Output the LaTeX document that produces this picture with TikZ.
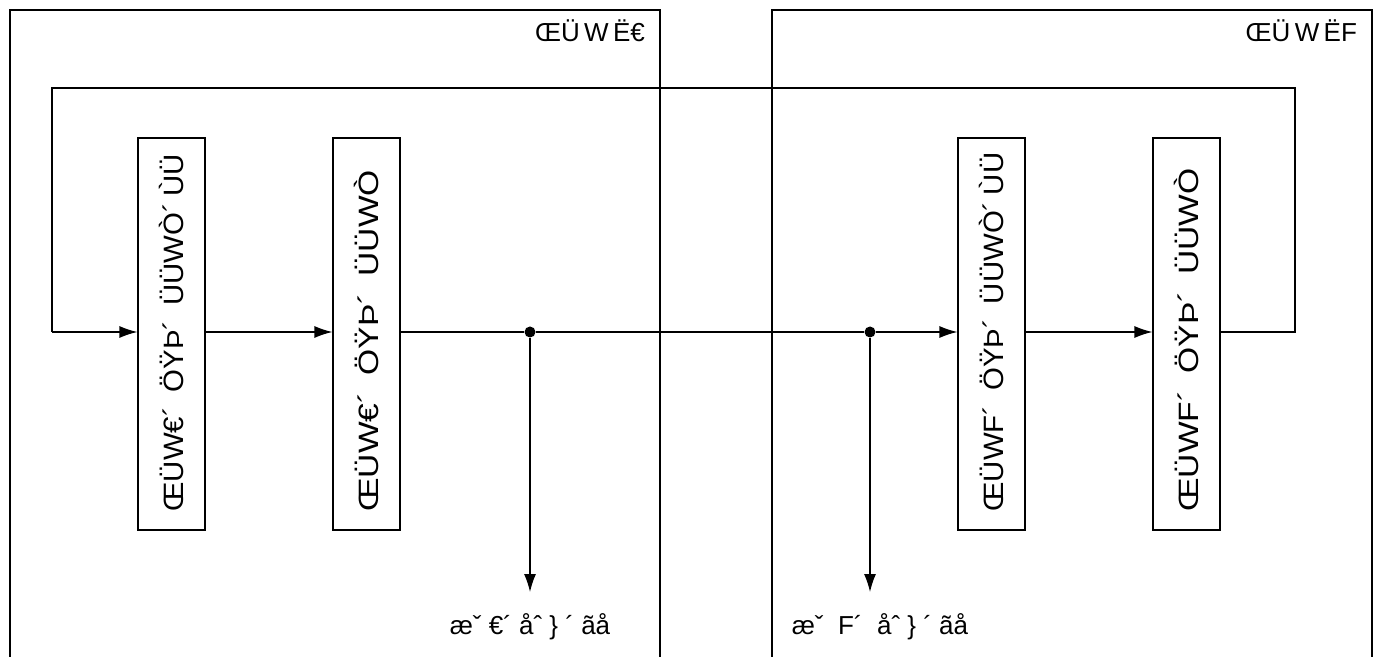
\documentclass[tikz,border=0pt]{standalone}
\usepackage{graphicx}
\usepackage{fontspec}
\setmainfont{Liberation Sans}
\usetikzlibrary{arrows.meta}
\begin{document}
\begin{tikzpicture}[x=0.5pt,y=-0.5pt,
  every node/.style={font=\fontsize{13}{15}\selectfont},
  frame/.style={draw,line width=0.6pt},
  blk/.style={draw,line width=0.6pt,minimum width=33.5pt,minimum height=196pt,inner sep=0pt},
  vtext/.style={rotate=90,anchor=west,inner sep=0pt,font=\fontsize{14}{16}\selectfont},
  arr/.style={-{Latex[length=9pt,width=6pt]},line width=0.6pt},
  ln/.style={line width=0.6pt},
  dot/.style={circle,fill,inner sep=0pt,minimum size=5.5pt}]
\useasboundingbox (0,0) rectangle (1382,657);
% frames
\draw[frame] (10,700) -- (10,10) -- (660,10) -- (660,700);
\draw[frame] (772,700) -- (772,10) -- (1372,10) -- (1372,700);
\node[anchor=east] (t1) at (652,31) {ŒÜ\,W\,Ë€};
\node[anchor=east] (t2) at (1364,31) {ŒÜ\,W\,ËF};
% blocks
\node[blk] (b1) at (171.5,334) {};
\node[blk] (b2) at (366.5,334) {};
\node[blk] (b3) at (991.5,334) {};
\node[blk] (b4) at (1186.5,334) {};
\node[vtext] (l1) at (171.5,512) {\scalebox{1.05}[1]{ŒÜW€´\hspace{7pt}ÖŸÞ´\hspace{7pt}ÜÜWÒ´\hspace{3pt}ÙÜ}};
\node[vtext] (l2) at (366.5,512) {\scalebox{1.2}[1]{ŒÜW€´\hspace{7pt}ÖŸÞ´\hspace{7pt}ÜÜWÒ}};
\node[vtext] (l3) at (991.5,512) {\scalebox{1.05}[1]{ŒÜWF´\hspace{7pt}ÖŸÞ´\hspace{7pt}ÜÜWÒ´\hspace{3pt}ÙÜ}};
\node[vtext] (l4) at (1186.5,512) {\scalebox{1.2}[1]{ŒÜWF´\hspace{7pt}ÖŸÞ´\hspace{7pt}ÜÜWÒ}};
% dots
\node[dot] (d1) at (530,332) {};
\node[dot] (d2) at (870,332) {};
\coordinate (e1) at (530,592);
\coordinate (e2) at (870,592);
\coordinate (fr) at (1295,332);
\coordinate (fl) at (52,332);
% connectors
\draw[ln] (b4.east |- fr) -- (fr) -- (1295,88) -- (52,88) -- (fl);
\draw[arr] (fl) -- (b1.west |- fl);
\draw[arr] (b1.east |- fl) -- (b2.west |- fl);
\draw[ln] (b2.east |- d1) -- (d1) -- (d2);
\draw[arr] (d2) -- (b3.west |- d2);
\draw[arr] (b3.east |- d2) -- (b4.west |- d2);
\draw[arr] (d1) -- (e1);
\draw[arr] (d2) -- (e2);
% bottom labels
\node (o1) at (530,627) {æˇ\ €´\ åˆ\ \}\ ´\ ãå};
\node (o2) at (880,627) {æˇ\ \ F´\ \ åˆ\ \}\ ´\ ãå};
\end{tikzpicture}
\end{document}
